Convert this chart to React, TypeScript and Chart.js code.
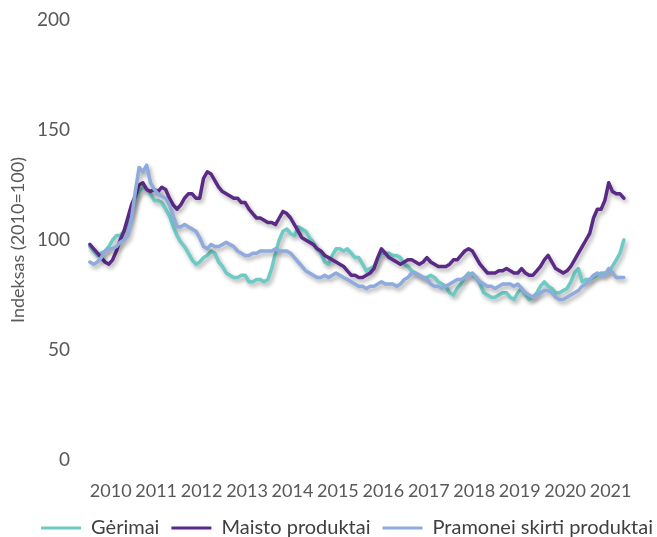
import React, { useEffect, useRef } from "react";
import { Chart, registerables } from "chart.js";

Chart.register(...registerables);

const years = ["2010", "2011", "2012", "2013", "2014", "2015", "2016", "2017", "2018", "2019", "2020", "2021"];

const seriesNames = ["Gėrimai", "Maisto produktai", "Pramonei skirti produktai"];
const seriesColors = ["#6DCAC4", "#5B2A86", "#8FAADC"];

const gerimai = [
  97, 95, 93, 94, 95, 97, 100, 102, 102, 104, 108, 113,
  119, 122, 124, 123, 121, 118, 118, 117, 114, 111, 106, 102,
  99, 97, 94, 91, 89, 90, 92, 93, 95, 94, 90, 88,
  85, 84, 83, 83, 84, 84, 81, 81, 82, 82, 81, 82,
  87, 94, 100, 104, 105, 103, 102, 106, 105, 104, 101, 99,
  96, 94, 90, 89, 93, 96, 96, 95, 96, 94, 92, 92,
  89, 86, 87, 88, 91, 94, 94, 94, 93, 93, 92, 89,
  88, 86, 85, 84, 83, 83, 84, 83, 81, 80, 79, 76,
  75, 78, 80, 83, 85, 84, 83, 80, 76, 75, 74, 74,
  75, 76, 76, 74, 73, 76, 78, 75, 73, 74, 76, 79,
  81, 79, 78, 76, 76, 77, 78, 81, 85, 87, 81, 82,
  82, 83, 84, 85, 85, 86, 88, 91, 94, 100,
];

const maisto = [
  98, 96, 94, 92, 90, 89, 91, 95, 100, 104, 110, 116,
  120, 125, 126, 123, 122, 123, 122, 124, 123, 119, 116, 114,
  116, 119, 121, 121, 119, 119, 128, 131, 130, 127, 124, 122,
  121, 120, 119, 119, 117, 117, 114, 112, 110, 110, 109, 108,
  108, 107, 110, 113, 112, 110, 107, 104, 101, 100, 99, 98,
  96, 95, 93, 92, 91, 90, 89, 88, 86, 84, 84, 83,
  83, 84, 85, 87, 92, 96, 94, 92, 91, 90, 89, 90,
  91, 91, 90, 89, 90, 92, 90, 89, 88, 88, 88, 89,
  91, 91, 93, 95, 96, 95, 92, 89, 87, 85, 85, 85,
  86, 86, 87, 86, 85, 85, 87, 85, 84, 84, 86, 88,
  91, 93, 90, 87, 86, 85, 86, 88, 91, 94, 97, 100,
  103, 110, 114, 114, 118, 126, 122, 121, 121, 119,
];

const pramonei = [
  90, 89, 90, 92, 95, 96, 96, 97, 99, 100, 102, 110,
  122, 133, 131, 134, 126, 123, 121, 120, 119, 116, 111, 106,
  106, 107, 106, 105, 104, 101, 97, 96, 98, 97, 97, 98,
  99, 98, 97, 95, 94, 93, 93, 94, 94, 95, 95, 95,
  95, 96, 95, 95, 95, 94, 92, 90, 88, 86, 85, 84,
  83, 83, 84, 83, 84, 85, 84, 83, 82, 81, 80, 79,
  79, 78, 79, 79, 80, 81, 80, 80, 80, 79, 80, 82,
  83, 85, 85, 84, 83, 82, 80, 79, 79, 78, 79, 80,
  81, 82, 82, 83, 84, 85, 83, 81, 80, 79, 79, 78,
  79, 80, 80, 80, 79, 80, 78, 76, 75, 74, 75, 76,
  77, 77, 76, 74, 73, 73, 74, 75, 76, 77, 79, 80,
  82, 84, 85, 84, 84, 87, 85, 83, 83, 83,
];

const allSeries = [gerimai, maisto, pramonei];

const FONT = "Lato, 'Open Sans', sans-serif";
const TEXT = "#595959";

const shadowPlugin = {
  id: "lineShadow",
  beforeDatasetDraw(chart: any) {
    const ctx = chart.ctx;
    ctx.save();
    ctx.shadowColor = "rgba(0,0,0,0.32)";
    ctx.shadowBlur = 4;
    ctx.shadowOffsetX = 2;
    ctx.shadowOffsetY = 3;
  },
  afterDatasetDraw(chart: any) {
    chart.ctx.restore();
  },
};

export default function App() {
  const canvasRef = useRef<HTMLCanvasElement | null>(null);

  useEffect(() => {
    if (!canvasRef.current) return;
    const chart = new Chart(canvasRef.current, {
      type: "line",
      data: {
        datasets: allSeries.map((s, k) => ({
          label: seriesNames[k],
          data: s.map((v, i) => ({ x: i, y: v })),
          borderColor: seriesColors[k],
          backgroundColor: seriesColors[k],
          borderWidth: 3.5,
          pointRadius: 0,
          tension: 0,
          borderJoinStyle: "round" as const,
          borderCapStyle: "round" as const,
          fill: false,
          order: 2 - k,
        })),
      },
      options: {
        animation: false,
        responsive: false,
        maintainAspectRatio: false,
        layout: { padding: { top: 20, left: 0, right: -8, bottom: -11 } },
        plugins: {
          tooltip: { enabled: false },
          legend: {
            position: "bottom",
            align: "end",
            labels: {
              boxWidth: 40,
              boxHeight: 3,
              padding: 12,
              color: "#404040",
              font: { family: FONT, size: 20 },
              sort: (a: any, b: any) => a.datasetIndex - b.datasetIndex,
              generateLabels: (c: any) =>
                Chart.defaults.plugins.legend.labels
                  .generateLabels(c)
                  .map((it: any) => ({ ...it, lineWidth: 0, fillStyle: it.strokeStyle })),
            },
          },
        },
        scales: {
          x: {
            type: "linear",
            min: -0.5,
            max: 149.76,
            grid: { display: false, drawTicks: false },
            border: { display: false },
            afterFit: (scale: any) => {
              scale.height = 46;
            },
            afterBuildTicks: (scale: any) => {
              scale.ticks = years.map((_, k) => ({ value: 12 * k + 5.5 }));
            },
            ticks: {
              autoSkip: false,
              maxRotation: 0,
              minRotation: 0,
              padding: 20,
              color: TEXT,
              font: { family: FONT, size: 18 },
              callback: (value: any) => {
                const k = Math.round((Number(value) - 5.5) / 12);
                return years[k] ?? "";
              },
            },
          },
          y: {
            min: 0,
            max: 200,
            grid: { display: false, drawTicks: false },
            border: { display: false },
            afterFit: (scale: any) => {
              scale.width = 88;
              scale.paddingTop = 10;
              scale.paddingBottom = 10;
            },
            ticks: {
              stepSize: 50,
              padding: 18,
              color: TEXT,
              font: { family: FONT, size: 19 },
            },
            title: {
              display: true,
              text: "Indeksas (2010=100)",
              color: TEXT,
              font: { family: FONT, size: 18 },
              padding: { top: 7, bottom: 0 },
            },
          },
        },
      },
      plugins: [shadowPlugin],
    });
    return () => chart.destroy();
  }, []);

  return (
    <div style={{ position: "fixed", left: 0, top: 0, width: 657, height: 537, background: "#fff" }}>
      <canvas ref={canvasRef} width={657} height={537} style={{ width: 657, height: 537, display: "block" }} />
    </div>
  );
}
